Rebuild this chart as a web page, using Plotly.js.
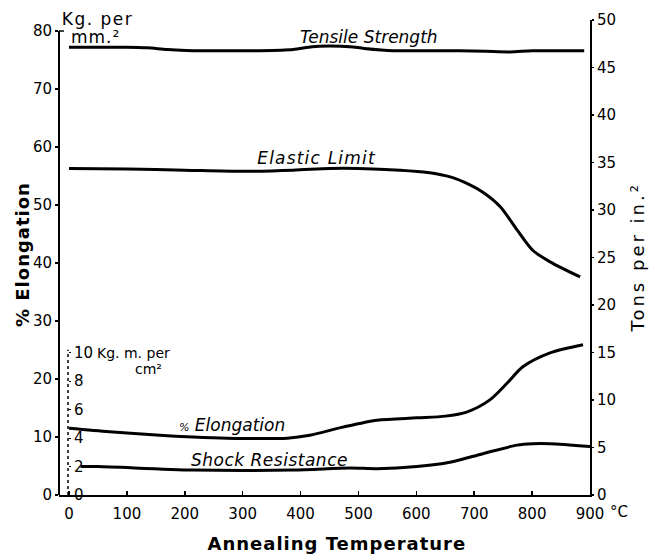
<!DOCTYPE html>
<html>
<head>
<meta charset="utf-8">
<script src="https://cdn.plot.ly/plotly-3.0.1.min.js"></script>
<style>html,body{margin:0;padding:0;background:#fff}</style>
</head>
<body>
<div id="chart" style="width:655px;height:560px"></div>
<script>
// ---- data ----
const tensileTemp = [0, 50, 100, 135, 170, 214, 270, 330, 387, 420, 450, 485, 510, 560, 620, 675, 720, 762, 800, 853, 890];
const tensileKg   = [77.2, 77.2, 77.2, 77.1, 76.8, 76.6, 76.6, 76.6, 76.8, 77.3, 77.4, 77.3, 77.0, 76.6, 76.6, 76.6, 76.5, 76.4, 76.6, 76.6, 76.6];

const elasticTemp = [0, 100, 200, 300, 387, 450, 500, 572, 620, 660, 690, 715, 745, 774, 801, 831, 883];
const elasticKg   = [56.3, 56.2, 56.0, 55.8, 56.0, 56.3, 56.3, 56.0, 55.6, 54.8, 53.6, 52.2, 49.7, 45.7, 42.2, 40.2, 37.6];

const elongTemp = [0, 70, 157, 214, 273, 377, 416, 473, 532, 601, 650, 687, 727, 757, 784, 831, 888];
const elongPct  = [11.5, 10.9, 10.3, 10.0, 9.8, 9.8, 10.3, 11.7, 12.9, 13.3, 13.6, 14.3, 16.4, 19.3, 22.1, 24.5, 25.9];

const shockTemp = [20, 50, 214, 387, 485, 532, 601, 658, 715, 774, 801, 831, 900];
const shockKgm  = [2.0, 2.0, 1.75, 1.75, 1.9, 1.85, 2.0, 2.3, 2.9, 3.5, 3.6, 3.6, 3.4];

const xTicks     = [0, 100, 200, 300, 400, 500, 600, 700, 800, 900];
const leftTicks  = [0, 10, 20, 30, 40, 50, 60, 70, 80];
const rightTicks = [0, 5, 10, 15, 20, 25, 30, 35, 40, 45, 50];
const shockTicks = [0, 2, 4, 6, 8, 10];

// ---- geometry ----
const PL = 59, PR = 590, PT = 20, PB = 495;
const fx = p => (p - PL) / (PR - PL);
const fy = p => (PB - p) / (PB - PT);
const FONT = 'DejaVu Sans';
const tickFont = {family: FONT, size: 15, color: '#000'};

const lineStyle = {color: '#000', width: 3, shape: 'spline', smoothing: 0.8};

const traces = [
  {x: tensileTemp, y: tensileKg, mode: 'lines', line: lineStyle, xaxis: 'x', yaxis: 'y', hoverinfo: 'skip'},
  {x: elasticTemp, y: elasticKg, mode: 'lines', line: lineStyle, xaxis: 'x', yaxis: 'y', hoverinfo: 'skip'},
  {x: elongTemp, y: elongPct, mode: 'lines', line: lineStyle, xaxis: 'x', yaxis: 'y', hoverinfo: 'skip'},
  {x: shockTemp, y: shockKgm, mode: 'lines', line: lineStyle, xaxis: 'x', yaxis: 'y3', hoverinfo: 'skip'},
  // invisible helper so the right-hand (tons per in.²) axis is drawn
  {x: tensileTemp, y: tensileKg, mode: 'lines', opacity: 0, line: {width: 0}, xaxis: 'x', yaxis: 'y2', hoverinfo: 'skip'}
];

function ann(text, px, py, opts) {
  return Object.assign({
    text: text, xref: 'paper', yref: 'paper', x: fx(px), y: fy(py),
    xanchor: 'left', yanchor: 'middle', showarrow: false,
    font: {family: FONT, size: 17, color: '#000'}
  }, opts || {});
}
const ital = (s) => ({family: FONT, size: s, color: '#000', style: 'italic'});

const annotations = [
  ann('Kg. per', 65, 19, {font: {family: FONT, size: 17, color: '#000'}}),
  ann('mm.²', 71, 37, {font: {family: FONT, size: 17, color: '#000'}}),
  ann('Tensile Strength', 298, 37, {font: ital(17)}),
  ann('Elastic Limit', 263, 158, {font: ital(17)}),
  ann('<span style="font-size:11px">%</span> Elongation', 177, 425, {font: ital(17)}),
  ann('Shock Resistance', 193, 460, {font: ital(17)}),
  ann('Kg. m. per', 95, 353, {font: {family: FONT, size: 14, color: '#000'}}),
  ann('cm²', 133, 369, {font: {family: FONT, size: 14, color: '#000'}}),
  ann('°C', 608, 512, {font: {family: FONT, size: 15, color: '#000'}}),
  ann('<b>% Elongation</b>', 22, 255, {xanchor: 'center', textangle: -90, font: {family: FONT, size: 18, color: '#000'}}),
  ann('Tons per in.²', 637, 258, {xanchor: 'center', textangle: -90, font: {family: FONT, size: 18, color: '#000'}}),
  ann('<b>Annealing Temperature</b>', 337, 543, {xanchor: 'center', font: {family: FONT, size: 18, color: '#000'}})
];
const spacing = {0: 1.5, 1: 1, 3: 1.2, 5: 0.5, 9: 1, 10: 3, 11: 1};

const layout = {
  width: 655, height: 560,
  margin: {l: PL, r: 655 - PR, t: PT, b: 560 - PB, pad: 0},
  paper_bgcolor: '#fff', plot_bgcolor: '#fff',
  showlegend: false,
  font: {family: FONT, color: '#000'},
  xaxis: {
    range: [-17.3, 900], tickvals: xTicks, ticktext: xTicks.map(String),
    showgrid: false, zeroline: false, showline: true, linecolor: '#000', linewidth: 2,
    ticks: 'inside', ticklen: 4, tickcolor: '#000', tickwidth: 1.5,
    tickfont: tickFont, ticklabelstandoff: 4, automargin: false, fixedrange: true
  },
  yaxis: {
    range: [0, (PB - PT) / 5.8], tickvals: leftTicks, ticktext: leftTicks.map(String),
    showgrid: false, zeroline: false, showline: false,
    ticks: 'outside', ticklen: 3, tickcolor: '#000', tickwidth: 1.5,
    tickfont: tickFont, automargin: false, fixedrange: true
  },
  yaxis2: {
    overlaying: 'y', side: 'right', anchor: 'x', range: [0, 50],
    tickvals: rightTicks, ticktext: rightTicks.map(String),
    showgrid: false, zeroline: false, showline: true, linecolor: '#000', linewidth: 2,
    ticks: 'outside', ticklen: 2, tickcolor: '#000', tickwidth: 1.5,
    tickfont: tickFont, automargin: false, fixedrange: true
  },
  yaxis3: {
    overlaying: 'y', anchor: 'free', position: fx(68), side: 'right',
    range: [0, (PB - PT) / 14.25], tickvals: shockTicks, ticktext: shockTicks.map(String),
    showgrid: false, zeroline: false, showline: false,
    ticks: 'outside', ticklen: 2, tickcolor: '#000', tickwidth: 1,
    tickfont: tickFont, automargin: false, fixedrange: true
  },
  shapes: [
    {type: 'line', xref: 'paper', yref: 'y', x0: 0, x1: 0, y0: 0, y1: 80, line: {color: '#000', width: 2}},
    {type: 'line', xref: 'paper', yref: 'y', x0: 0, x1: fx(64), y0: 80, y1: 80, line: {color: '#000', width: 1.5}},
    {type: 'line', xref: 'paper', yref: 'y3', x0: fx(68), x1: fx(68), y0: 0, y1: 10.2, line: {color: '#000', width: 1.5, dash: 'dot'}}
  ],
  annotations: annotations
};

Plotly.newPlot('chart', traces, layout, {staticPlot: true, displayModeBar: false}).then(gd => {
  gd.querySelectorAll('g.annotation').forEach(g => {
    const i = g.getAttribute('data-index');
    if (spacing[i] !== undefined) {
      g.querySelectorAll('text').forEach(t => { t.style.letterSpacing = spacing[i] + 'px'; });
    }
  });
});
</script>
</body>
</html>
